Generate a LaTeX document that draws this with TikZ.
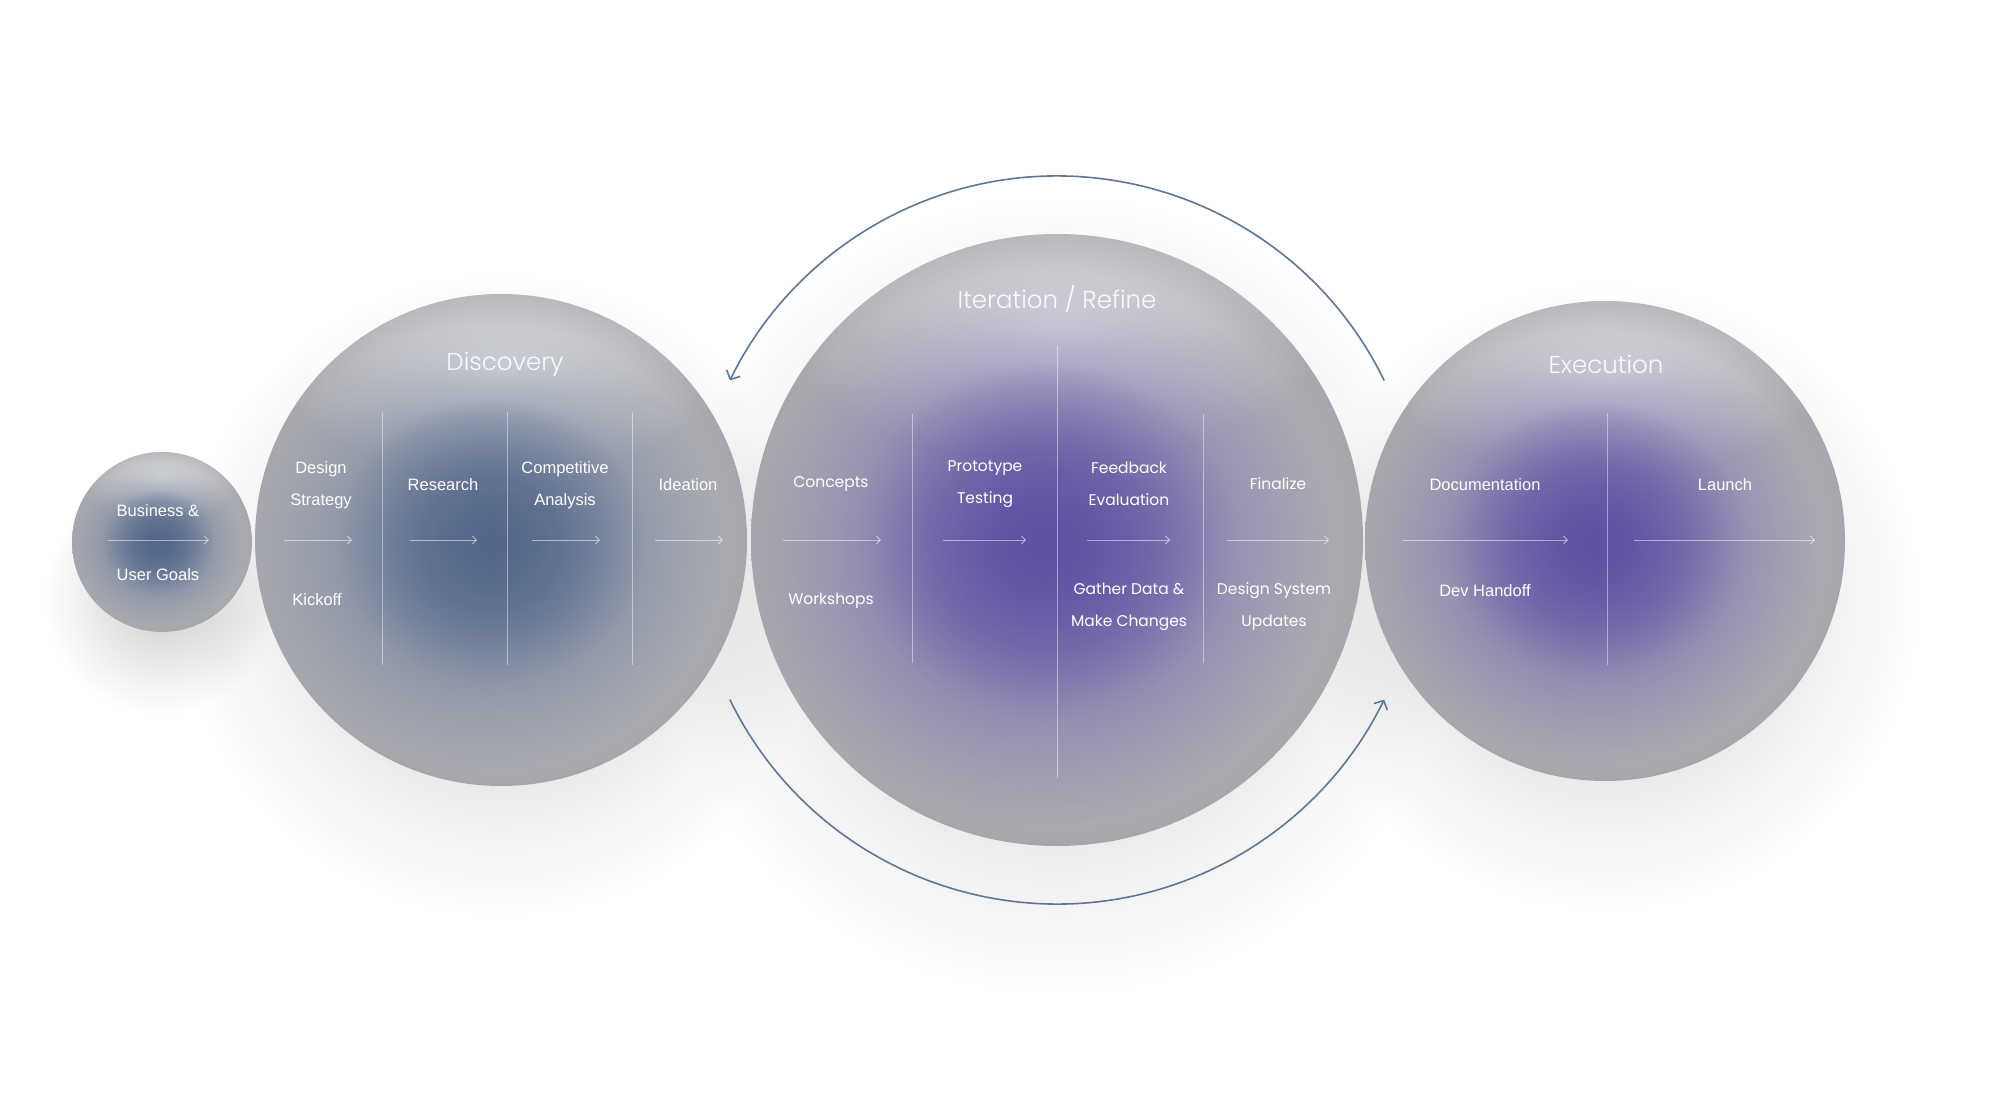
\documentclass[tikz,border=0pt]{standalone}
\usepackage{fontspec}
\setmainfont{Liberation Sans}
\newfontfamily\popfont{Poppins}
\newfontfamily\poplight{Poppins}[UprightFont={* Light}]
\usetikzlibrary{arrows.meta,fadings}
\definecolor{sphlight}{HTML}{CBCCD1}
\definecolor{sphedge}{HTML}{A6A7AD}
\definecolor{blobblue}{HTML}{54678A}
\definecolor{blobpurple}{HTML}{5E52A3}
\definecolor{loopcol}{HTML}{5E7698}
\tikzfading[name=soft, inner color=transparent!0, outer color=transparent!100]
\begin{document}
\begin{tikzpicture}[x=1pt, y=-1pt,
  sphere/.style={circle, inner sep=0pt, minimum size=2*#1, shading=radial,
    inner color=sphlight, outer color=sphedge},
  divider/.style={draw=white, draw opacity=.45, line width=1pt},
  flow/.style={draw=white, draw opacity=.5, line width=1pt, -{Straight Barb[length=4pt,width=8pt]}},
  iterloop/.style={draw=loopcol, line width=1.6pt, -{Straight Barb[length=7pt,width=15pt]}},
  title/.style={text=white, text opacity=.9, font=\poplight\fontsize{24.5}{28}\selectfont},
  lbl/.style={text=white, align=center, font=\fontsize{16.5}{32}\selectfont},
  ilbl/.style={text=white, align=center, font=\popfont\fontsize{15.5}{32}\selectfont},
  ]
\fill[white] (0,0) rectangle (1998,1118);
\useasboundingbox (0,0) rectangle (1998,1118);

\coordinate (goals) at (162,542);
\coordinate (disc) at (501,540);
\coordinate (iter) at (1057,540);
\coordinate (exec) at (1605,541);

% soft shadows
\foreach \c/\r in {goals/90, disc/246, iter/306, exec/240}
  \fill[black, opacity=.2, path fading=soft] ([yshift=-55pt]\c) circle (1.3*\r);

\node[sphere=90] (goalsball) at (goals) {};
\node[sphere=246] (discball) at (disc) {};
\node[sphere=306] (iterball) at (iter) {};
\node[sphere=240] (execball) at (exec) {};

% glow and colour blob inside each ball
\foreach \c/\r/\col in {goalsball/90/blobblue, discball/246/blobblue, iterball/306/blobpurple, execball/240/blobpurple}{
  \begin{scope}
    \clip (\c) circle (\r);
    \fill[white, opacity=.6, path fading=soft] ([yshift=.7*\r]\c) ellipse ({.9*\r} and {.45*\r});
    \fill[\col, path fading=soft] ([shift={(-.04*\r,.03*\r)}]\c) ellipse ({.95*\r} and {.9*\r});
    \fill[\col, path fading=soft] ([xshift=-.04*\r]\c) ellipse ({.62*\r} and {.58*\r});
  \end{scope}
}

% column dividers
\foreach \x/\a/\b in {382/412/665, 507/412/665, 632/412/665, 912/414/663, 1057/346/778, 1203/414/663, 1607/413/665}
  \draw[divider] (\x,\a) -- (\x,\b);

% step arrows
\foreach \a/\b [count=\i] in {108/209, 284/352, 410/477, 532/600, 655/723, 783/881, 943/1026, 1087/1170, 1227/1329, 1403/1568, 1634/1815}{
  \coordinate (f\i a) at (\a,540);
  \coordinate (f\i b) at (\b,540);
  \draw[flow] (f\i a) -- (f\i b);
}

% iteration loop
\coordinate (looptop) at ([shift={(-26:364)}]iter);
\coordinate (loopbot) at ([shift={(154:364)}]iter);
\draw[iterloop] (looptop) arc[start angle=-26, end angle=-154, radius=364];
\draw[iterloop] (loopbot) arc[start angle=154, end angle=26, radius=364];

\node[lbl] (business) at (158,511) {Business \&};
\node[lbl] (usergoals) at (158,575) {User Goals};

\node[title] (disctitle) at (505,364) {Discovery};
\node[lbl] (strategy) at (321,485) {Design\\Strategy};
\node[lbl] (kickoff) at (317,600) {Kickoff};
\node[lbl] (research) at (443,485) {Research};
\node[lbl] (competitive) at (565,485) {Competitive\\Analysis};
\node[lbl] (ideation) at (688,485) {Ideation};

\node[title] (itertitle) at (1057,299) {Iteration / Refine};
\node[ilbl] (concepts) at (831,484) {Concepts};
\node[ilbl] (workshops) at (831,601) {Workshops};
\node[ilbl] (prototype) at (985,484) {Prototype\\Testing};
\node[ilbl] (feedback) at (1129,484) {Feedback\\Evaluation};
\node[ilbl] (gather) at (1129,607) {Gather Data \&\\Make Changes};
\node[ilbl] (finalize) at (1278,484) {Finalize};
\node[ilbl] (dsupdates) at (1274,607) {Design System\\Updates};

\node[title] (exectitle) at (1606,364) {Execution};
\node[lbl] (documentation) at (1485,485) {Documentation};
\node[lbl] (launch) at (1725,485) {Launch};
\node[lbl] (handoff) at (1485,591) {Dev Handoff};
\end{tikzpicture}
\end{document}
